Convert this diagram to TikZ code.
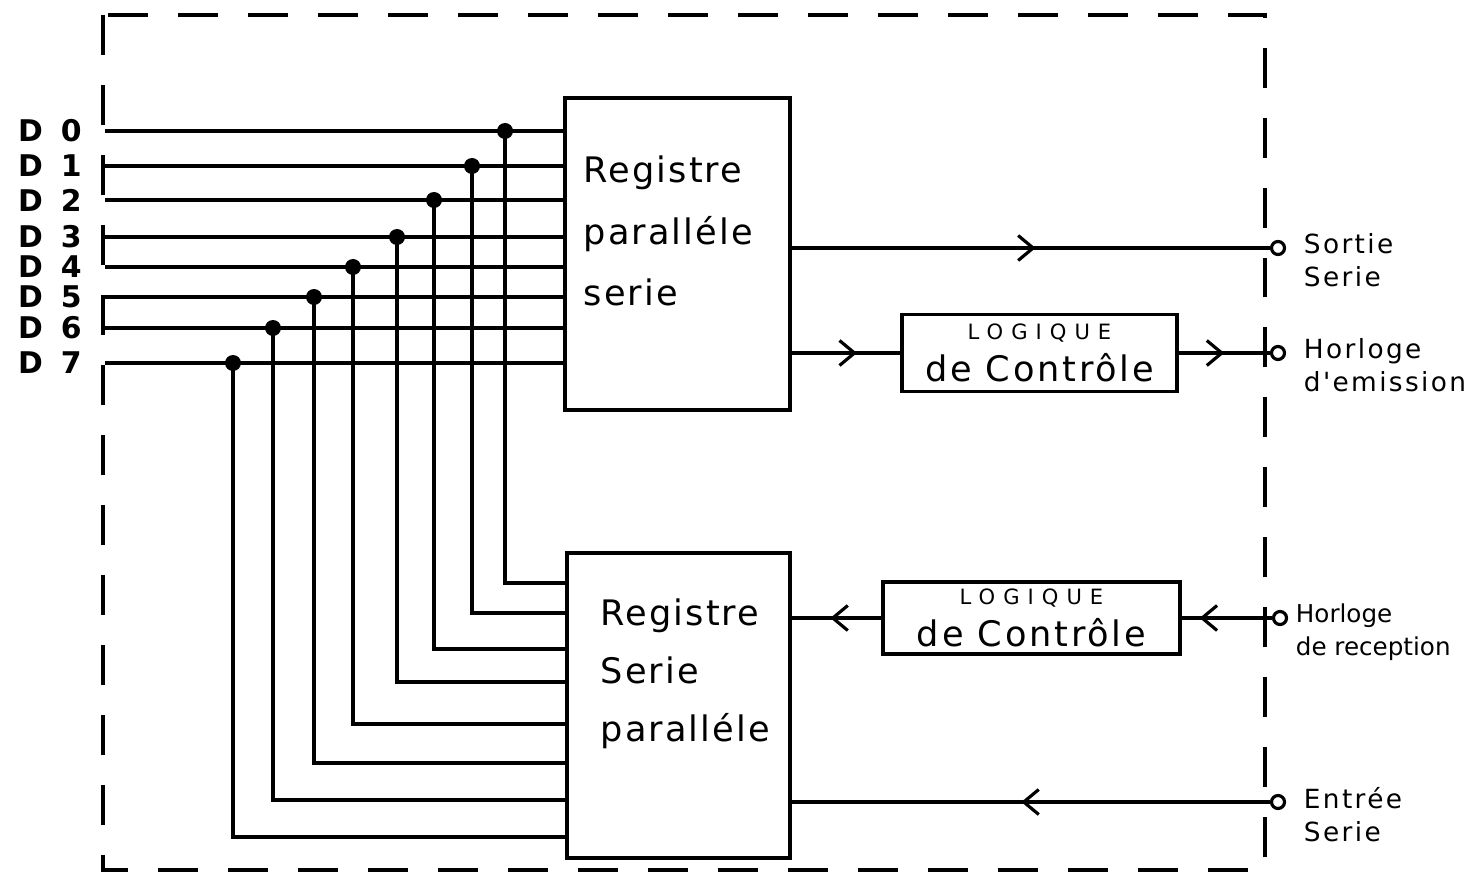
\documentclass[tikz,border=0pt]{standalone}
\usepackage{fontspec}
\usepackage{tikz}
\usetikzlibrary{arrows.meta, positioning, calc, decorations.markings}
\newfontfamily\regfont{DejaVu Sans}[LetterSpace=6]
\newfontfamily\logfont{DejaVu Sans}[LetterSpace=8]
\newfontfamily\capfont{DejaVu Sans}[LetterSpace=38]
\newfontfamily\termfont{DejaVu Sans}[LetterSpace=9]
\newfontfamily\tightfont{DejaVu Sans}
\newfontfamily\busfont{DejaVu Sans}
\tikzset{
  reg/.style={rectangle, draw, line width=2pt, inner sep=0pt},
  logic/.style={rectangle, draw, line width=1.8pt, inner sep=0pt, align=center,
    font=\logfont\fontsize{20}{23}\selectfont},
  regtext/.style={align=left, inner sep=0pt, font=\regfont\fontsize{20}{35}\selectfont},
  dlabel/.style={inner sep=0pt, font=\busfont\bfseries\fontsize{17}{20}\selectfont},
  term/.style={circle, draw, line width=1.8pt, fill=white, minimum size=0.26cm, inner sep=0pt},
  termlabel/.style={align=left, inner sep=0pt, font=\termfont\fontsize{15}{19}\selectfont},
  wire/.style={line width=2pt},
  dot/.style={circle, fill=black, minimum size=0.32cm, inner sep=0pt},
  flow/.style={wire, postaction=decorate, decoration={markings,
    mark=at position #1 with {\arrow{Straight Barb[length=3mm, width=5mm, line width=1.8pt]}}}},
  border/.style={line width=2pt, dash pattern=on 0.8cm off 0.6cm}
}
\begin{document}
\begin{tikzpicture}[x=0.02cm, y=-0.02cm]
  \useasboundingbox (0,0) rectangle (1476,881);

  % dashed frame
  \draw[border] (103,15) rectangle (1265,870);

  % registers
  \node[reg, minimum width=4.5cm, minimum height=6.24cm] (regA) at (677.5,254) {};
  \node[reg, minimum width=4.46cm, minimum height=6.1cm] (regB) at (678.5,705.5) {};
  \node[regtext, anchor=west] (tA) at ([xshift=0.4cm, yshift=0.46cm]regA.west)
    {Registre\\paralléle\\serie};
  \node[regtext, anchor=west, font=\regfont\fontsize{20}{33}\selectfont]
    (tB) at ([xshift=0.7cm, yshift=0.64cm]regB.west) {Registre\\Serie\\paralléle};

  % control logic
  \node[logic, minimum width=5.5cm, minimum height=1.54cm] (logA) at (1039.5,353)
    {{\capfont\fontsize{12}{14}\selectfont LOGIQUE}\\[1pt]de Contrôle};
  \node[logic, minimum width=5.94cm, minimum height=1.44cm] (logB) at (1031.5,618)
    {{\capfont\fontsize{12}{14}\selectfont LOGIQUE}\\[1pt]de Contrôle};

  % terminals
  \node[term] (sortie) at (1278,248) {};
  \node[term] (emission) at (1278,353) {};
  \node[term] (reception) at (1280,618) {};
  \node[term] (entree) at (1278,802) {};
  \node[termlabel, anchor=north west] (lsortie) at ([xshift=0.35cm, yshift=0.3cm]sortie.east) {Sortie\\Serie};
  \node[termlabel, anchor=north west] (lemission) at ([xshift=0.35cm, yshift=0.3cm]emission.east) {Horloge\\d'emission};
  \node[termlabel, anchor=north west, font=\tightfont\fontsize{14}{19}\selectfont] (lreception)
    at ([xshift=0.15cm, yshift=0.3cm]reception.east) {Horloge\\de reception};
  \node[termlabel, anchor=north west] (lentree) at ([xshift=0.35cm, yshift=0.3cm]entree.east) {Entrée\\Serie};

  % data bus D0..D7
  \foreach \i/\y/\x/\yb in {0/131/505/583, 1/166/472/613, 2/200/434/649, 3/237/397/682,
                            4/267/353/724, 5/297/314/763, 6/328/273/800, 7/363/233/837} {
    \node[dlabel] (d\i) at (50,\y) {D\hspace{0.36cm}\i};
    \coordinate (in\i) at (105,\y);
    \draw[wire] (in\i) -- (in\i -| regA.west);
    \node[dot] (j\i) at (\x,\y) {};
    \draw[wire] (j\i.center) |- (regB.west |- 0,\yb);
  }

  % serial paths
  \draw[flow=0.51] (regA.east |- sortie) -- (sortie);
  \draw[flow=0.6] (regA.east |- logA) -- (logA);
  \draw[flow=0.5] (logA) -- (emission);
  \draw[flow=0.8] (reception) -- (logB);
  \draw[flow=0.57] (logB) -- (regB.east |- logB);
  \draw[flow=0.52] (entree) -- (regB.east |- entree);
\end{tikzpicture}
\end{document}
